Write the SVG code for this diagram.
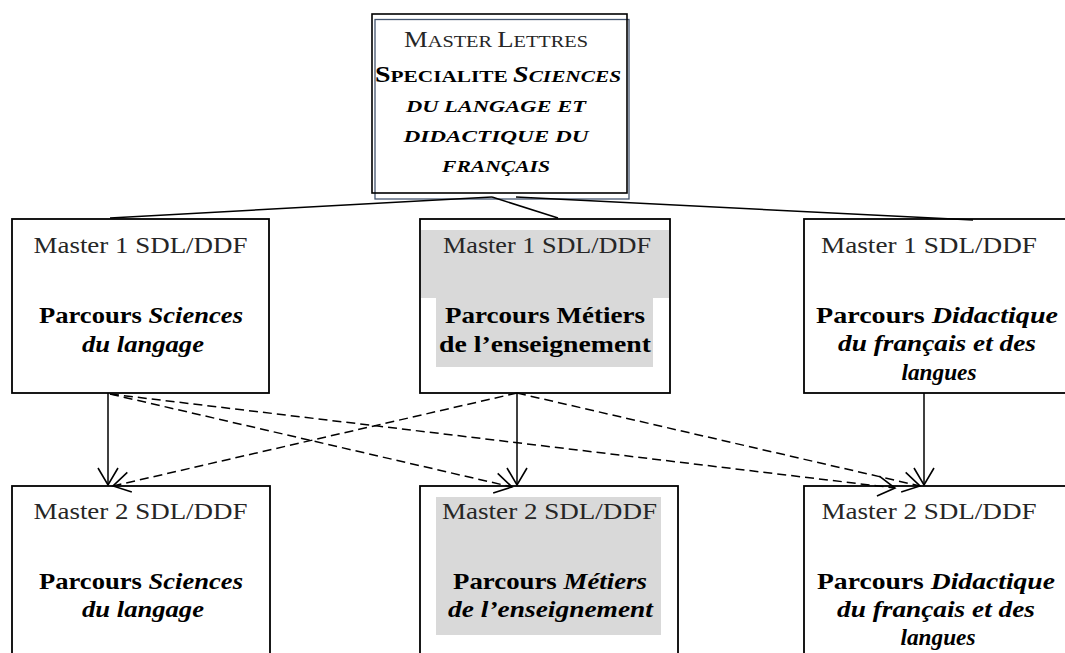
<svg xmlns="http://www.w3.org/2000/svg" width="1065" height="653" viewBox="0 0 1065 653">
<style>
.box{fill:#fff;stroke:#000;stroke-width:1.8}
.gray{fill:#d9d9d9;stroke:none}
.t{font-family:"Liberation Serif","Times New Roman",serif;text-anchor:middle}
.reg{font-size:24px;fill:#262626}
.b{font-size:23px;font-weight:bold;fill:#000}
.it{font-style:italic}
.sc{font-size:17.5px}
.cap{font-size:23px}
.conn{stroke:#000;stroke-width:1.5;fill:none}
.dash{stroke-dasharray:9 5}
.arr{marker-end:url(#ah)}
</style>
<defs>
<marker id="ah" markerUnits="userSpaceOnUse" viewBox="-20 -12 22 24" markerWidth="22" markerHeight="24" refX="0" refY="0" orient="auto">
<path d="M-17,-10 L0,0 L-17,10" fill="none" stroke="#000" stroke-width="1.6"/>
</marker>
</defs>
<rect width="1065" height="653" fill="#fff"/>

<g id="top">
<rect x="375" y="19.5" width="254" height="179.5" fill="#fff" stroke="#44556f" stroke-width="1.3"/>
<rect x="372" y="14" width="255" height="179" fill="none" stroke="#000" stroke-width="1.6"/>
<text class="t" x="496" y="47" fill="#262626" textLength="184" lengthAdjust="spacingAndGlyphs"><tspan class="cap">M</tspan><tspan class="sc">ASTER </tspan><tspan class="cap">L</tspan><tspan class="sc">ETTRES</tspan></text>
<text class="t" x="498" y="82" font-weight="bold" textLength="246" lengthAdjust="spacingAndGlyphs"><tspan class="cap">S</tspan><tspan class="sc">PECIALITE </tspan><tspan class="cap it">S</tspan><tspan class="sc it">CIENCES</tspan></text>
<text class="t sc it" x="496" y="112" font-weight="bold" textLength="180" lengthAdjust="spacingAndGlyphs">DU LANGAGE ET</text>
<text class="t sc it" x="496" y="142" font-weight="bold" textLength="185" lengthAdjust="spacingAndGlyphs">DIDACTIQUE DU</text>
<text class="t sc it" x="496" y="172" font-weight="bold" textLength="108" lengthAdjust="spacingAndGlyphs">FRANÇAIS</text>
</g>

<g id="m1-sdl">
<rect class="box" x="12" y="219" width="257" height="174"/>
<text class="t reg" x="140.5" y="253" textLength="214" lengthAdjust="spacingAndGlyphs">Master 1 SDL/DDF</text>
<text class="t b" x="141" y="323" textLength="204" lengthAdjust="spacingAndGlyphs">Parcours <tspan class="it">Sciences</tspan></text>
<text class="t b it" x="143" y="352" textLength="122" lengthAdjust="spacingAndGlyphs">du langage</text>
</g>

<g id="m1-mee">
<rect class="box" x="420" y="219" width="250" height="174"/>
<rect class="gray" x="421" y="230" width="248" height="68"/>
<rect class="gray" x="436" y="297" width="217" height="70"/>
<text class="t reg" x="547" y="253" textLength="208" lengthAdjust="spacingAndGlyphs">Master 1 SDL/DDF</text>
<text class="t b" x="545" y="323" textLength="200" lengthAdjust="spacingAndGlyphs">Parcours Métiers</text>
<text class="t b" x="545" y="352" textLength="212" lengthAdjust="spacingAndGlyphs">de l’enseignement</text>
</g>

<g id="m1-ddf">
<rect class="box" x="804" y="219" width="270" height="174"/>
<text class="t reg" x="929" y="253" textLength="216" lengthAdjust="spacingAndGlyphs">Master 1 SDL/DDF</text>
<text class="t b" x="937" y="323" textLength="242" lengthAdjust="spacingAndGlyphs">Parcours <tspan class="it">Didactique</tspan></text>
<text class="t b it" x="937" y="351" textLength="198" lengthAdjust="spacingAndGlyphs">du français et des</text>
<text class="t b it" x="939" y="380" textLength="75" lengthAdjust="spacingAndGlyphs">langues</text>
</g>

<g id="m2-sdl">
<rect class="box" x="12" y="486" width="258" height="220"/>
<text class="t reg" x="140.5" y="519" textLength="214" lengthAdjust="spacingAndGlyphs">Master 2 SDL/DDF</text>
<text class="t b" x="141" y="589" textLength="204" lengthAdjust="spacingAndGlyphs">Parcours <tspan class="it">Sciences</tspan></text>
<text class="t b it" x="143" y="617" textLength="122" lengthAdjust="spacingAndGlyphs">du langage</text>
</g>

<g id="m2-mee">
<rect class="box" x="420" y="486" width="258" height="220"/>
<rect class="gray" x="436" y="497" width="225" height="138"/>
<text class="t reg" x="549.5" y="519" textLength="215" lengthAdjust="spacingAndGlyphs">Master 2 SDL/DDF</text>
<text class="t b" x="550" y="589" textLength="194" lengthAdjust="spacingAndGlyphs">Parcours <tspan class="it">Métiers</tspan></text>
<text class="t b it" x="550.5" y="617" textLength="205" lengthAdjust="spacingAndGlyphs">de l’enseignement</text>
</g>

<g id="m2-ddf">
<rect class="box" x="804" y="486" width="270" height="220"/>
<text class="t reg" x="929" y="519" textLength="215" lengthAdjust="spacingAndGlyphs">Master 2 SDL/DDF</text>
<text class="t b" x="936" y="589" textLength="238" lengthAdjust="spacingAndGlyphs">Parcours <tspan class="it">Didactique</tspan></text>
<text class="t b it" x="936" y="617" textLength="198" lengthAdjust="spacingAndGlyphs">du français et des</text>
<text class="t b it" x="938" y="645" textLength="75" lengthAdjust="spacingAndGlyphs">langues</text>
</g>

<g id="connectors">
<line class="conn" x1="492" y1="197" x2="110" y2="218"/>
<line class="conn" x1="492" y1="197" x2="558" y2="218"/>
<line class="conn" x1="516" y1="197" x2="973" y2="220"/>
<line class="conn arr" x1="108" y1="393" x2="108" y2="485"/>
<line class="conn arr" x1="517" y1="393" x2="517" y2="485"/>
<line class="conn arr" x1="924" y1="393" x2="924" y2="485"/>
<line class="conn dash arr" x1="110" y1="394" x2="512" y2="487"/>
<line class="conn dash arr" x1="110" y1="394" x2="895" y2="488"/>
<line class="conn dash arr" x1="517" y1="393" x2="113" y2="486"/>
<line class="conn dash arr" x1="517" y1="393" x2="920" y2="486"/>
</g>
</svg>
